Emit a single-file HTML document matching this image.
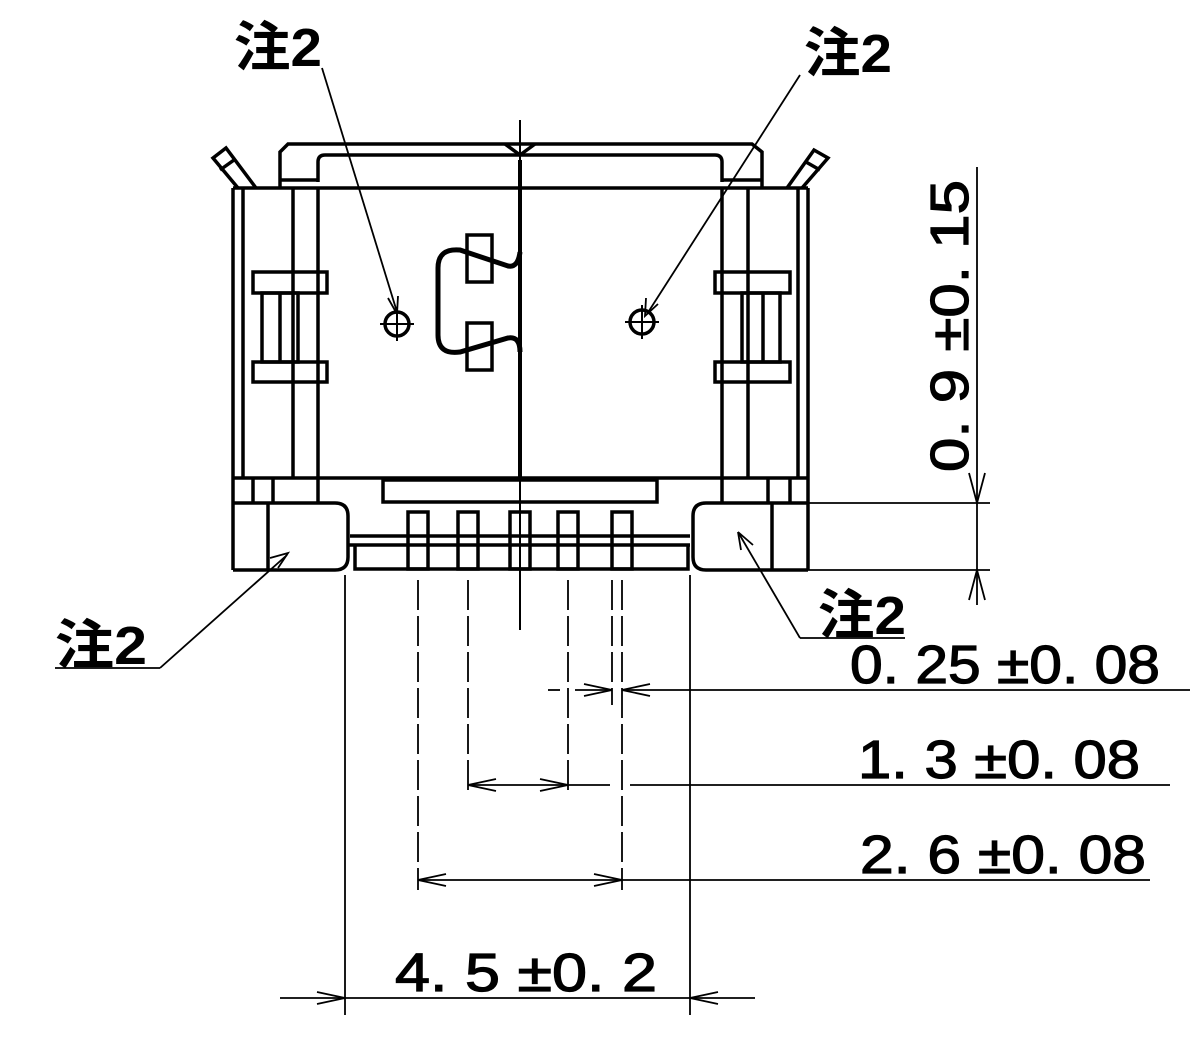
<!DOCTYPE html>
<html><head><meta charset="utf-8"><style>
html,body{margin:0;padding:0;background:#fff;}
svg{display:block}
text{font-family:"Liberation Sans","Noto Sans CJK JP",sans-serif;font-weight:bold;fill:#000}
</style></head><body>
<svg width="1200" height="1057" viewBox="0 0 1200 1057" xmlns="http://www.w3.org/2000/svg">
<g fill="none" stroke="#000" stroke-width="3.5">
<path d="M280,188 V152 L288,144 H752 L762,152 V188"/>
<path d="M318,182 V162 Q318,155 325,155 H715 Q722,155 722,162 V182"/>
<line x1="280" y1="180" x2="318" y2="180"/><line x1="722" y1="180" x2="762" y2="180"/>
<line x1="233" y1="188" x2="808" y2="188"/>
<path d="M238,188 L213,158 L226,148 L256,188"/><line x1="220" y1="170" x2="234" y2="160"/>
<path d="M787,188 L814,150 L828,158 L802,188"/><line x1="806" y1="162" x2="820" y2="170"/>
<line x1="233" y1="188" x2="233" y2="570"/><line x1="243" y1="188" x2="243" y2="478"/>
<line x1="293" y1="188" x2="293" y2="478"/><line x1="318" y1="188" x2="318" y2="478"/>
<rect x="253" y="272" width="74" height="21"/><rect x="253" y="362" width="74" height="20"/>
<rect x="262" y="293" width="36" height="69"/><line x1="280" y1="293" x2="280" y2="362"/>
<line x1="808" y1="188" x2="808" y2="570"/><line x1="798" y1="188" x2="798" y2="478"/>
<line x1="748" y1="188" x2="748" y2="478"/><line x1="722" y1="188" x2="722" y2="478"/>
<rect x="715" y="272" width="75" height="21"/><rect x="715" y="362" width="75" height="20"/>
<rect x="742" y="293" width="38" height="69"/><line x1="763" y1="293" x2="763" y2="362"/>
<line x1="233" y1="478" x2="808" y2="478"/>
<line x1="253" y1="478" x2="253" y2="503"/><line x1="273" y1="478" x2="273" y2="503"/><line x1="318" y1="478" x2="318" y2="503"/>
<line x1="722" y1="478" x2="722" y2="503"/><line x1="768" y1="478" x2="768" y2="503"/><line x1="790" y1="478" x2="790" y2="503"/>
<path d="M233,503 H335 Q348,503 348,516 V557 Q348,570 335,570 H233"/>
<line x1="268" y1="503" x2="268" y2="570"/>
<path d="M808,503 H706 Q693,503 693,516 V557 Q693,570 706,570 H808"/>
<line x1="772" y1="503" x2="772" y2="570"/>
<rect x="383" y="480" width="274" height="22"/>
<line x1="350" y1="536" x2="690" y2="536"/>
<path d="M355,545 V569 H688 V545"/>
<line x1="348" y1="545" x2="690" y2="545"/>
<rect x="408" y="512" width="20" height="57"/><rect x="458" y="512" width="20" height="57"/>
<rect x="510" y="512" width="20" height="57"/><rect x="558" y="512" width="20" height="57"/>
<rect x="612" y="512" width="20" height="57"/>
<rect x="467" y="235" width="25" height="47"/><rect x="467" y="323" width="25" height="47"/>
<path d="M520,252 Q518,268 508,266 L460,250 Q438,248 438,268 V335 Q438,355 460,352 L508,338 Q520,336 520,352" stroke-width="5"/>
<line x1="520" y1="160" x2="520" y2="478" stroke-width="4"/>
<path d="M505,144 L520,155 L535,144"/>
<line x1="520" y1="120" x2="520" y2="630" stroke-width="2"/>
<circle cx="397" cy="324" r="12"/><line x1="380" y1="324" x2="414" y2="324" stroke-width="2"/><line x1="397" y1="307" x2="397" y2="341" stroke-width="2"/>
<circle cx="642" cy="322" r="12"/><line x1="625" y1="322" x2="659" y2="322" stroke-width="2"/><line x1="642" y1="305" x2="642" y2="339" stroke-width="2"/>
</g>
<g fill="none" stroke="#000" stroke-width="1.8">
<line x1="322" y1="68" x2="397" y2="312"/><path d="M388,298 L397,314 L398,296"/>
<line x1="800" y1="75" x2="647" y2="314"/><path d="M646,298 L645,316 L658,304"/>
<line x1="55" y1="668" x2="160" y2="668"/><line x1="160" y1="668" x2="287" y2="555"/><path d="M270,558 L288,553 L278,568"/>
<line x1="800" y1="638" x2="905" y2="638"/><line x1="800" y1="638" x2="738" y2="532"/><path d="M738,532 L741,550 M738,532 L753,545"/>
<line x1="808" y1="503" x2="990" y2="503"/><line x1="808" y1="570" x2="990" y2="570"/>
<line x1="977" y1="167" x2="977" y2="605"/>
<path d="M969,473 L977,503 L985,473"/><path d="M969,600 L977,570 L985,600"/>
<line x1="345" y1="575" x2="345" y2="1015"/><line x1="690" y1="575" x2="690" y2="1015"/>
<line x1="418" y1="580" x2="418" y2="890" stroke-dasharray="30,6"/>
<line x1="468" y1="580" x2="468" y2="795" stroke-dasharray="30,6"/>
<line x1="568" y1="580" x2="568" y2="795" stroke-dasharray="30,6"/>
<line x1="612" y1="580" x2="612" y2="705" stroke-dasharray="30,6"/>
<line x1="622" y1="580" x2="622" y2="890" stroke-dasharray="30,6"/>
<line x1="548" y1="690" x2="560" y2="690"/><line x1="575" y1="690" x2="612" y2="690"/><line x1="622" y1="690" x2="1190" y2="690"/>
<path d="M584,684 L612,690 L584,696"/><path d="M650,684 L622,690 L650,696"/>
<line x1="468" y1="785" x2="610" y2="785"/><line x1="630" y1="785" x2="1170" y2="785"/>
<path d="M496,779 L468,785 L496,791"/><path d="M540,779 L568,785 L540,791"/>
<line x1="418" y1="880" x2="1150" y2="880"/>
<path d="M446,874 L418,880 L446,886"/><path d="M594,874 L622,880 L594,886"/>
<line x1="280" y1="998" x2="755" y2="998"/>
<path d="M317,992 L345,998 L317,1004"/><path d="M718,992 L690,998 L718,1004"/>
</g>
<g font-size="54">
<text x="234" y="66" textLength="88" lengthAdjust="spacingAndGlyphs">注2</text>
<text x="804" y="72" textLength="88" lengthAdjust="spacingAndGlyphs">注2</text>
<text x="55" y="664" textLength="92" lengthAdjust="spacingAndGlyphs">注2</text>
<text x="818" y="634" textLength="88" lengthAdjust="spacingAndGlyphs">注2</text>
</g>
<g font-size="54" style="font-weight:normal" stroke="#000" stroke-width="1.2">
<text x="850" y="683" textLength="310" lengthAdjust="spacingAndGlyphs" style="font-weight:normal">0. 25 ±0. 08</text>
<text x="858" y="778" textLength="282" lengthAdjust="spacingAndGlyphs" style="font-weight:normal">1. 3 ±0. 08</text>
<text x="860" y="873" textLength="286" lengthAdjust="spacingAndGlyphs" style="font-weight:normal">2. 6 ±0. 08</text>
<text x="395" y="991" textLength="262" lengthAdjust="spacingAndGlyphs" style="font-weight:normal">4. 5 ±0. 2</text>
<text transform="translate(968,472) rotate(-90)" textLength="292" lengthAdjust="spacingAndGlyphs" style="font-weight:normal">0. 9 ±0. 15</text>
</g>
</svg>
</body></html>
